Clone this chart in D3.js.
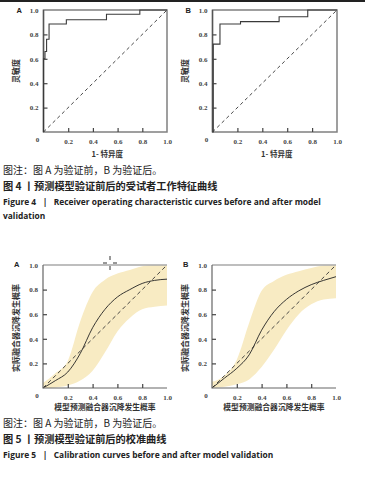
<!DOCTYPE html>
<meta charset="utf-8">
<script src="https://d3js.org/d3.v7.min.js"></script>
<style>
  body { margin: 0; background: #fff; }
</style>
<body>
<div id="canvas"></div>
<script>
// ---- dados ----------------------------------------------------------
var ticks = [0.2, 0.4, 0.6, 0.8, 1.0];

// ROC (1-especificidade, sensibilidade), vertices da escada
var rocFprA = [0, 0, 0.012, 0.012, 0.025, 0.025, 0.045, 0.045, 0.185, 0.185, 0.51, 0.51, 0.78, 0.78, 1];
var rocTprA = [0, 0.6, 0.6, 0.66, 0.66, 0.76, 0.76, 0.885, 0.885, 0.92, 0.92, 0.965, 0.965, 1, 1];
var rocFprB = [0, 0.006, 0.006, 0.06, 0.06, 0.225, 0.225, 0.535, 0.535, 0.765, 0.765, 1];
var rocTprB = [0, 0, 0.72, 0.72, 0.885, 0.885, 0.905, 0.905, 0.945, 0.945, 1, 1];

// calibracao
var calX   = [0, 0.1, 0.2, 0.3, 0.4, 0.5, 0.6, 0.7, 0.8, 0.9, 1.0];
var calFitA = [0, 0.06, 0.13, 0.28, 0.49, 0.64, 0.74, 0.80, 0.85, 0.875, 0.885];
var calUpA  = [0.04, 0.12, 0.22, 0.54, 0.78, 0.88, 0.93, 0.96, 0.99, 1.0, 1.0];
var calLoA  = [0, 0.005, 0.02, 0.06, 0.14, 0.29, 0.46, 0.57, 0.64, 0.66, 0.67];
var calFitB = [0, 0.08, 0.16, 0.27, 0.47, 0.62, 0.72, 0.79, 0.84, 0.875, 0.905];
var calUpB  = [0.05, 0.1, 0.23, 0.53, 0.79, 0.87, 0.92, 0.95, 0.975, 0.995, 1.0];
var calLoB  = [0, 0.01, 0.03, 0.07, 0.17, 0.31, 0.47, 0.6, 0.68, 0.72, 0.73];

var width = 365, height = 478;
var cjk = '"Noto Sans CJK SC", sans-serif';
var serif = '"Liberation Serif", serif';
var fmt = d3.format(".1f");

var svg = d3.select('#canvas')
    .append("svg")
    .attr("width", width)
    .attr("height", height);

// barra escura no topo
svg.append("rect").attr("x", 0).attr("y", 0).attr("width", width).attr("height", 2).attr("fill", "#222");

function estilo(a) {
    a.attr("font-family", serif).attr("font-size", 7).attr("font-weight", "bold");
    a.select(".domain").remove();
    a.selectAll(".tick text").attr("fill", "#444");
    a.selectAll(".tick line").attr("stroke", "#444").attr("stroke-width", 1.2)
        .filter(function(d) { return d == 1; }).remove();
}

function eixos(g, x, y) {
    g.append("g")
        .attr("transform", "translate(0," + y.range()[0] + ")")
        .call(d3.axisBottom(x).tickValues(ticks).tickFormat(fmt).tickSizeInner(-4).tickSizeOuter(0).tickPadding(7))
        .call(estilo);
    g.append("g")
        .attr("transform", "translate(" + x.range()[0] + ",0)")
        .call(d3.axisLeft(y).tickValues(ticks).tickFormat(fmt).tickSizeInner(-4).tickSizeOuter(0).tickPadding(5))
        .call(estilo);
    g.append("text")
        .attr("x", x(0) - 6).attr("y", y(0) + 9.5)
        .attr("text-anchor", "middle")
        .style("font-family", serif).style("font-weight", "bold")
        .style("font-size", "7px").attr("fill", "#444")
        .text("0");
}

function letra(g, x, y, t) {
    g.append("text").attr("x", x).attr("y", y)
        .style("font-family", '"Liberation Sans", sans-serif').style("font-weight", "bold")
        .style("font-size", "7.5px").attr("fill", "#222").text(t);
}

function rotuloY(g, x, y, t, size) {
    g.append("text")
        .attr("transform", "translate(" + x + "," + y + ") rotate(-90)")
        .attr("text-anchor", "middle")
        .style("font-family", cjk).style("font-size", size).style("font-weight", "bold")
        .attr("fill", "#333").text(t);
}

// -- ROC ---------------------------------------------------------------
function roc(x0, x1, fpr, tpr, nome) {
    var x = d3.scaleLinear().domain([0, 1]).range([x0, x1]);
    var y = d3.scaleLinear().domain([0, 1]).range([132, 10]);
    var g = svg.append("g");

    // caixa
    g.append("path")
        .attr("d", "M" + x(0) + "," + y(0) + "V" + y(1) + "H" + x(1) + "V" + y(0) + "Z")
        .attr("fill", "none").attr("stroke", "#808080").attr("stroke-width", 1.5);
    g.append("path")
        .attr("d", "M" + x(0) + "," + y(0) + "V" + y(1))
        .attr("stroke", "#555").attr("stroke-width", 1.3);

    // diagonal
    g.append("line")
        .attr("x1", x(0)).attr("y1", y(0)).attr("x2", x(1)).attr("y2", y(1))
        .attr("stroke", "#333").attr("stroke-width", 0.9).attr("stroke-dasharray", "3.5,3");

    var pts = fpr.map(function(d, i) { return [d, tpr[i]]; });
    var linha = d3.line().x(function(d) { return x(d[0]); }).y(function(d) { return y(d[1]); });
    g.append("path")
        .attr("d", linha(pts))
        .attr("fill", "none").attr("stroke", "#3a3a3a").attr("stroke-width", 1.1);

    eixos(g, x, y);
    letra(g, x0 - 27, 12.5, nome);
    rotuloY(g, x0 - 25, 71, "灵敏度", "8px");
    g.append("text").attr("x", (x0 + x1) / 2 + 2).attr("y", 157)
        .attr("text-anchor", "middle")
        .style("font-family", cjk).style("font-size", "7.5px").style("font-weight", "bold")
        .attr("fill", "#333").text("1- 特异度");
}

roc(43.5, 167, rocFprA, rocTprA, "A");
roc(212.5, 337, rocFprB, rocTprB, "B");

// -- calibracao -----------------------------------------------------------
function calib(x0, x1, fit, up, lo, nome) {
    var x = d3.scaleLinear().domain([0, 1]).range([x0, x1]);
    var y = d3.scaleLinear().domain([0, 1]).range([388, 265]);
    var g = svg.append("g");

    var area = d3.area()
        .curve(d3.curveMonotoneX)
        .x(function(d, i) { return x(calX[i]); })
        .y0(function(d, i) { return y(lo[i]); })
        .y1(function(d, i) { return y(up[i]); });
    g.append("path").attr("d", area(calX)).attr("fill", "#f8ebc3");

    g.append("line")
        .attr("x1", x(0)).attr("y1", y(0)).attr("x2", x(1)).attr("y2", y(1))
        .attr("stroke", "#333").attr("stroke-width", 0.9).attr("stroke-dasharray", "4,3");

    var linha = d3.line()
        .curve(d3.curveMonotoneX)
        .x(function(d, i) { return x(calX[i]); })
        .y(function(d) { return y(d); });
    g.append("path").attr("d", linha(fit))
        .attr("fill", "none").attr("stroke", "#222").attr("stroke-width", 0.9);

    // bordas
    g.append("line").attr("x1", x(0)).attr("y1", y(1)).attr("x2", x(1)).attr("y2", y(1))
        .attr("stroke", "#a8a8a8").attr("stroke-width", 1.5);
    g.append("path").attr("d", "M" + x(0) + "," + y(1) + "V" + y(0) + "H" + x(1))
        .attr("fill", "none").attr("stroke", "#666").attr("stroke-width", 1.2);

    eixos(g, x, y);
    letra(g, x0 - 29, 267, nome);
    rotuloY(g, x0 - 24, 328, "实际融合器沉降发生概率", "8px");
    g.append("text").attr("x", (x0 + x1) / 2).attr("y", 410)
        .attr("text-anchor", "middle")
        .style("font-family", cjk).style("font-size", "7.8px").style("font-weight", "bold")
        .attr("fill", "#333").text("模型预测融合器沉降发生概率");
}

calib(43, 167, calFitA, calUpA, calLoA, "A");
calib(212, 336, calFitB, calUpB, calLoB, "B");

// pequena cruz (marca na imagem)
svg.append("path")
    .attr("d", "M103,263H107M113,263H117M110,256V260M110,266V270")
    .attr("stroke", "#333").attr("stroke-width", 1);

// -- legendas --------------------------------------------------------
function legenda(y, t, peso, size, fam) {
    svg.append("text").attr("x", 3).attr("y", y)
        .style("font-family", fam).style("font-size", size).style("font-weight", peso)
        .style("white-space", "pre")
        .attr("fill", "#222").text(t);
}
var en = '"Open Sans", sans-serif';
legenda(174, "图注：图 A 为验证前，B 为验证后。", "normal", "10px", cjk);
legenda(190, "图 4 丨预测模型验证前后的受试者工作特征曲线", "bold", "10.2px", cjk);
legenda(205, "Figure 4   |   Receiver operating characteristic curves before and after model", "bold", "8.4px", en);
legenda(219, "validation", "bold", "8.4px", en);
legenda(427, "图注：图 A 为验证前，B 为验证后。", "normal", "10px", cjk);
legenda(443, "图 5 丨预测模型验证前后的校准曲线", "bold", "10.2px", cjk);
legenda(458, "Figure 5   |   Calibration curves before and after model validation", "bold", "8.4px", en);
</script>
</body>
